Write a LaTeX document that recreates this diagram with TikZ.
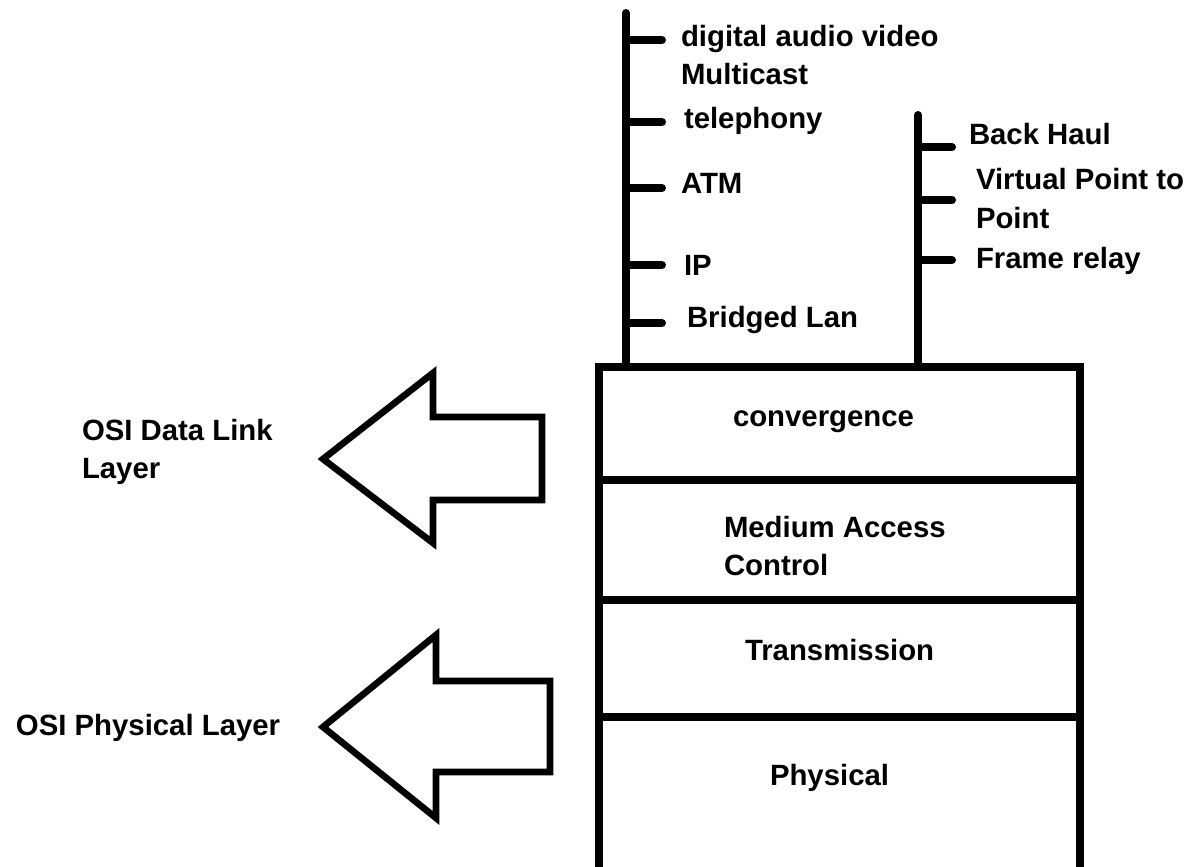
\documentclass[tikz,border=0pt]{standalone}
\usepackage{fontspec}
\setmainfont{Liberation Sans}
\begin{document}
\begin{tikzpicture}[x=0.75pt,y=-0.75pt,line width=6pt,
  lbl/.style={anchor=base west,inner sep=0pt,align=left,
    font=\fontsize{22}{28.5}\selectfont\bfseries},
  tick/.style={line cap=round},
  bigarrow/.style={line width=5pt}]
\useasboundingbox (0,0) rectangle (1204,867);
%% stems
\coordinate (stemL) at (626,13);
\coordinate (stemR) at (918,115);
\draw[line cap=round] (stemL) -- (626,367);
\draw[line cap=round] (stemR) -- (918,367);
%% left labels (multi-line ones sit on their last line)
\foreach \ty/\by/\bx/\nm/\txt in {40/85/677/dav/{digital audio video\\Multicast},
    122/128/680/tel/telephony, 188/193/677/atm/ATM, 265/275/680/ip/IP,
    323/327/683/lan/Bridged Lan}{
  \node[lbl] (\nm) at (\bx,\by) {\txt};
  \draw[tick] (stemL |- 0,\ty) -- ++(36,0);
}
%% right labels
\foreach \ty/\by/\bx/\nm/\txt in {147/145/965/bh/Back Haul,
    200/228/972/vpp/{Virtual Point to\\Point}, 260/268/972/fr/Frame relay}{
  \node[lbl] (\nm) at (\bx,\by) {\txt};
  \draw[tick] (stemR |- 0,\ty) -- ++(34,0);
}
%% layer box
\draw (599,867) -- (599,367) -- (1080,367) -- (1080,867);
\foreach \y in {480,600,717}
  \draw (596,\y) -- (1083,\y);
\node[lbl] (conv) at (729,426) {convergence};
\node[lbl] (mac) at (720,575) {Medium Access\\Control};
\node[lbl] (trans) at (741,660) {Transmission};
\node[lbl] (phys) at (766,785) {Physical};
%% arrows
\draw[bigarrow] (323,459) -- (433,373) -- (433,417) -- (542,417) -- (542,500)
  -- (433,500) -- (433,543) -- cycle;
\draw[bigarrow] (323,727) -- (436,635) -- (436,681) -- (550,681) -- (550,772)
  -- (436,772) -- (436,818) -- cycle;
\node[lbl] (dll) at (78,478) {OSI Data Link\\Layer};
\node[lbl] (phl) at (12,735) {OSI Physical Layer};
\end{tikzpicture}
\end{document}
